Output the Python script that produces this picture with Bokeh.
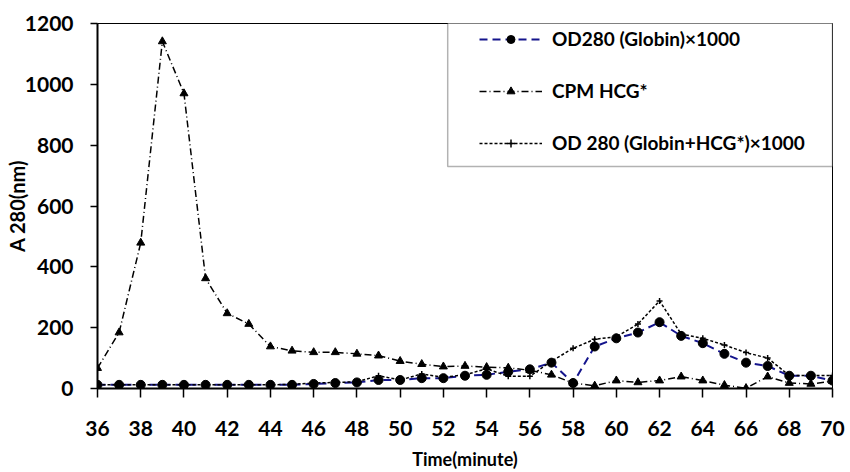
from bokeh.plotting import figure
from bokeh.models import FixedTicker, Legend, LegendItem, BoxAnnotation, Range1d
from bokeh.embed import file_html
from bokeh.resources import INLINE

minutes = list(range(36, 71))
globin = [12, 12, 12, 12, 12, 12, 12, 12, 12, 12, 15, 18, 20, 28, 28, 34, 34, 42, 45, 55,
          63, 85, 18, 138, 165, 184, 218, 173, 149, 114, 85, 74, 42, 42, 26]
cpm_hcg = [67, 184, 479, 1141, 970, 362, 247, 212, 138, 124, 119, 119, 114, 108, 90, 80, 72, 74, 70, 68,
           60, 45, 18, 9, 26, 20, 26, 39, 26, 11, 1, 39, 18, 15, 24]
globin_hcg = [12, 12, 12, 12, 12, 12, 12, 12, 12, 14, 18, 20, 22, 42, 28, 48, 37, 45, 65, 40,
              40, 90, 132, 162, 170, 212, 288, 179, 165, 143, 118, 100, 43, 43, 43]
x_ticks = list(range(36, 71, 2))
y_ticks = list(range(0, 1201, 200))
series_labels = ["OD280 (Globin)×1000", "CPM HCG*", "OD 280 (Globin+HCG*)×1000"]
x_title = "Time(minute)"
y_title = "A 280(nm)"

FONT = "Lato"

p = figure(width=850, height=472, x_range=Range1d(36, 70), y_range=Range1d(0, 1200),
           output_backend="svg", toolbar_location=None,
           min_border_left=97, min_border_right=18, min_border_top=23, min_border_bottom=83)

p.xgrid.visible = False
p.ygrid.visible = False
p.outline_line_color = "black"
p.outline_line_width = 1
p.background_fill_color = "white"
p.border_fill_color = "white"

for ax in (p.xaxis, p.yaxis):
    ax.axis_line_color = "black"
    ax.axis_line_width = 2
    ax.major_tick_line_color = "black"
    ax.major_tick_line_width = 1.5
    ax.major_tick_in = 0
    ax.minor_tick_line_color = None
    ax.major_label_text_font = FONT
    ax.major_label_text_font_style = "bold"
    ax.major_label_text_font_size = "21px"
    ax.major_label_text_color = "black"
    ax.axis_label_text_font = FONT
    ax.axis_label_text_font_style = "bold"
    ax.axis_label_text_color = "black"

p.xaxis.ticker = FixedTicker(ticks=x_ticks)
p.yaxis.ticker = FixedTicker(ticks=y_ticks)
p.xaxis.major_tick_out = 9
p.yaxis.major_tick_out = 7
p.xaxis.major_label_standoff = 23
p.yaxis.major_label_standoff = 17
p.xaxis.axis_label = x_title
p.xaxis.axis_label_text_font_size = "18px"
p.xaxis.axis_label_standoff = 9
p.yaxis.axis_label = y_title
p.yaxis.axis_label_text_font_size = "20px"
p.yaxis.axis_label_standoff = -7

l1 = p.line(minutes, globin, line_color="#14148c", line_width=2, line_dash="8 5")
s1 = p.scatter(minutes, globin, marker="circle", size=9, fill_color="black", line_color="black")
l2 = p.line(minutes, cpm_hcg, line_color="black", line_width=1.5, line_dash="7 3 1 3")
s2 = p.scatter(minutes, cpm_hcg, marker="triangle", size=8, fill_color="black", line_color="black")
l3 = p.line(minutes, globin_hcg, line_color="black", line_width=1.5, line_dash="3 2")
s3 = p.scatter(minutes, globin_hcg, marker="cross", size=6, line_color="black", line_width=1.5)

box = BoxAnnotation(left=52.2, right=70, bottom=730, top=1205,
                    fill_color="white", fill_alpha=1.0, line_color="black", line_width=1.5)
p.add_layout(box)

legend = Legend(items=[LegendItem(label=series_labels[0], renderers=[l1, s1]),
                       LegendItem(label=series_labels[1], renderers=[l2, s2]),
                       LegendItem(label=series_labels[2], renderers=[l3, s3])],
                location=(382, 234), orientation="vertical", padding=0, margin=0,
                spacing=29, glyph_width=63, glyph_height=20, label_height=20,
                label_standoff=10, label_text_font=FONT, label_text_font_style="bold",
                label_text_font_size="19px", label_text_color="black",
                border_line_alpha=0, background_fill_alpha=0)
p.add_layout(legend)

open("out.html", "w").write(file_html(p, INLINE))
